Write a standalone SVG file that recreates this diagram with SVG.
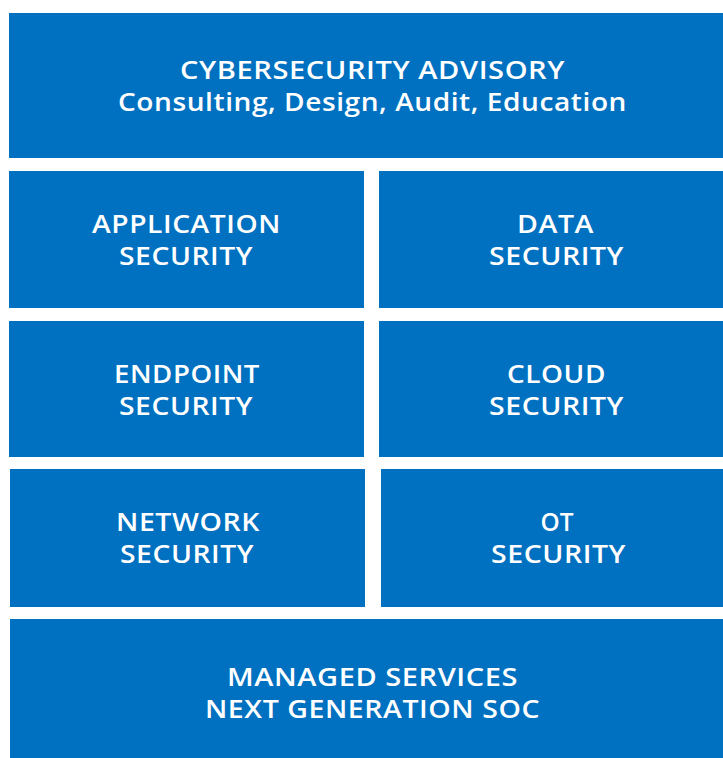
<svg xmlns="http://www.w3.org/2000/svg" width="723" height="758" viewBox="0 0 723 758">
<style>
.b{fill:#0070C0}
.t{fill:#fff;font-family:"Open Sans",sans-serif;font-weight:600;font-size:25px;letter-spacing:0.5px;text-anchor:middle}
</style>
<rect width="723" height="758" fill="#fff"/>
<g id="advisory"><rect class="b" x="9" y="13" width="714" height="145"/>
<text class="t" x="372.5" y="79" textLength="385" lengthAdjust="spacingAndGlyphs">CYBERSECURITY ADVISORY</text><text class="t" x="372.5" y="111" textLength="509" lengthAdjust="spacingAndGlyphs">Consulting, Design, Audit, Education</text></g>
<g id="appsec"><rect class="b" x="9" y="171" width="355" height="137"/>
<text class="t" x="186.5" y="233" textLength="189" lengthAdjust="spacingAndGlyphs">APPLICATION</text><text class="t" x="186" y="265" textLength="134" lengthAdjust="spacingAndGlyphs">SECURITY</text></g>
<g id="datasec"><rect class="b" x="379" y="171" width="344" height="137"/>
<text class="t" x="555.5" y="233" textLength="77" lengthAdjust="spacingAndGlyphs">DATA</text><text class="t" x="556.5" y="265" textLength="135" lengthAdjust="spacingAndGlyphs">SECURITY</text></g>
<g id="endpoint"><rect class="b" x="9" y="321" width="355" height="136"/>
<text class="t" x="187" y="383" textLength="146" lengthAdjust="spacingAndGlyphs">ENDPOINT</text><text class="t" x="186" y="415" textLength="134" lengthAdjust="spacingAndGlyphs">SECURITY</text></g>
<g id="cloud"><rect class="b" x="379" y="321" width="344" height="136"/>
<text class="t" x="556.5" y="383" textLength="99" lengthAdjust="spacingAndGlyphs">CLOUD</text><text class="t" x="556.5" y="415" textLength="135" lengthAdjust="spacingAndGlyphs">SECURITY</text></g>
<g id="network"><rect class="b" x="10" y="469" width="355" height="138"/>
<text class="t" x="188" y="531" textLength="144" lengthAdjust="spacingAndGlyphs">NETWORK</text><text class="t" x="187" y="563" textLength="134" lengthAdjust="spacingAndGlyphs">SECURITY</text></g>
<g id="ot"><rect class="b" x="381" y="469" width="342" height="138"/>
<text class="t" x="557" y="531" textLength="33" lengthAdjust="spacingAndGlyphs" style="letter-spacing:0">OT</text><text class="t" x="558.5" y="563" textLength="135" lengthAdjust="spacingAndGlyphs">SECURITY</text></g>
<g id="managed"><rect class="b" x="10" y="619" width="713" height="139"/>
<text class="t" x="372.5" y="686" textLength="291" lengthAdjust="spacingAndGlyphs">MANAGED SERVICES</text><text class="t" x="372.5" y="718" textLength="335" lengthAdjust="spacingAndGlyphs">NEXT GENERATION SOC</text></g>
<g id="connectors"/>
</svg>
